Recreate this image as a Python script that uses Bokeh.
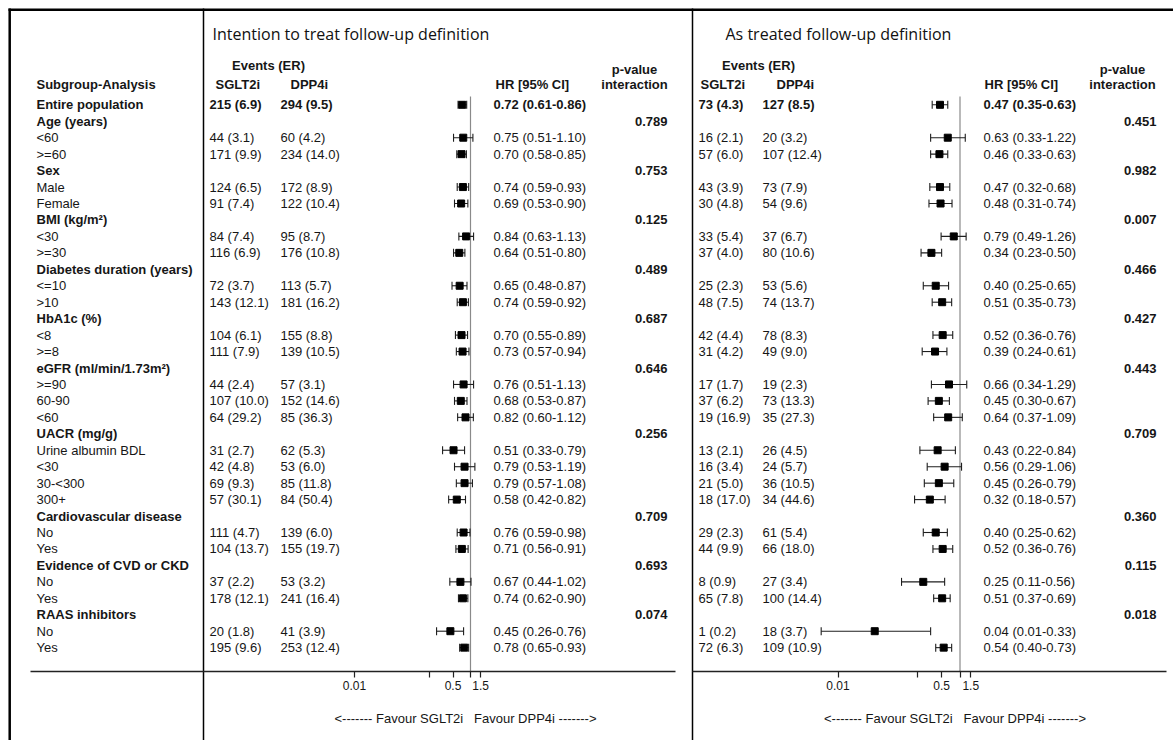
from bokeh.plotting import figure
from bokeh.models import ColumnDataSource, Range1d, LogScale, LogAxis, FixedTicker, Label, CustomJSTickFormatter
from bokeh.core.properties import value
from bokeh.embed import file_html
from bokeh.resources import INLINE

# ---------------- data ----------------
subgroups = ["Entire population", "Age (years)", "<60", ">=60", "Sex", "Male", "Female",
             "BMI (kg/m\u00b2)", "<30", ">=30", "Diabetes duration (years)", "<=10", ">10",
             "HbA1c (%)", "<8", ">=8", "eGFR (ml/min/1.73m\u00b2)", ">=90", "60-90", "<60",
             "UACR (mg/g)", "Urine albumin BDL", "<30", "30-<300", "300+",
             "Cardiovascular disease", "No", "Yes", "Evidence of CVD or CKD", "No", "Yes",
             "RAAS inhibitors", "No", "Yes"]
group_rows = [1, 4, 7, 10, 13, 16, 20, 25, 28, 31]

# Intention to treat
itt_sglt2_n = [215, None, 44, 171, None, 124, 91, None, 84, 116, None, 72, 143, None, 104, 111,
               None, 44, 107, 64, None, 31, 42, 69, 57, None, 111, 104, None, 37, 178, None, 20, 195]
itt_sglt2_er = [6.9, None, 3.1, 9.9, None, 6.5, 7.4, None, 7.4, 6.9, None, 3.7, 12.1, None, 6.1, 7.9,
                None, 2.4, 10.0, 29.2, None, 2.7, 4.8, 9.3, 30.1, None, 4.7, 13.7, None, 2.2, 12.1, None, 1.8, 9.6]
itt_dpp4_n = [294, None, 60, 234, None, 172, 122, None, 95, 176, None, 113, 181, None, 155, 139,
              None, 57, 152, 85, None, 62, 53, 85, 84, None, 139, 155, None, 53, 241, None, 41, 253]
itt_dpp4_er = [9.5, None, 4.2, 14.0, None, 8.9, 10.4, None, 8.7, 10.8, None, 5.7, 16.2, None, 8.8, 10.5,
               None, 3.1, 14.6, 36.3, None, 5.3, 6.0, 11.8, 50.4, None, 6.0, 19.7, None, 3.2, 16.4, None, 3.9, 12.4]
itt_hr = [0.72, None, 0.75, 0.70, None, 0.74, 0.69, None, 0.84, 0.64, None, 0.65, 0.74, None, 0.70, 0.73,
          None, 0.76, 0.68, 0.82, None, 0.51, 0.79, 0.79, 0.58, None, 0.76, 0.71, None, 0.67, 0.74, None, 0.45, 0.78]
itt_lo = [0.61, None, 0.51, 0.58, None, 0.59, 0.53, None, 0.63, 0.51, None, 0.48, 0.59, None, 0.55, 0.57,
          None, 0.51, 0.53, 0.60, None, 0.33, 0.53, 0.57, 0.42, None, 0.59, 0.56, None, 0.44, 0.62, None, 0.26, 0.65]
itt_hi = [0.86, None, 1.10, 0.85, None, 0.93, 0.90, None, 1.13, 0.80, None, 0.87, 0.92, None, 0.89, 0.94,
          None, 1.13, 0.87, 1.12, None, 0.79, 1.19, 1.08, 0.82, None, 0.98, 0.91, None, 1.02, 0.90, None, 0.76, 0.93]
itt_p = [0.789, 0.753, 0.125, 0.489, 0.687, 0.646, 0.256, 0.709, 0.693, 0.074]

# As treated
at_sglt2_n = [73, None, 16, 57, None, 43, 30, None, 33, 37, None, 25, 48, None, 42, 31,
              None, 17, 37, 19, None, 13, 16, 21, 18, None, 29, 44, None, 8, 65, None, 1, 72]
at_sglt2_er = [4.3, None, 2.1, 6.0, None, 3.9, 4.8, None, 5.4, 4.0, None, 2.3, 7.5, None, 4.4, 4.2,
               None, 1.7, 6.2, 16.9, None, 2.1, 3.4, 5.0, 17.0, None, 2.3, 9.9, None, 0.9, 7.8, None, 0.2, 6.3]
at_dpp4_n = [127, None, 20, 107, None, 73, 54, None, 37, 80, None, 53, 74, None, 78, 49,
             None, 19, 73, 35, None, 26, 24, 36, 34, None, 61, 66, None, 27, 100, None, 18, 109]
at_dpp4_er = [8.5, None, 3.2, 12.4, None, 7.9, 9.6, None, 6.7, 10.6, None, 5.6, 13.7, None, 8.3, 9.0,
              None, 2.3, 13.3, 27.3, None, 4.5, 5.7, 10.5, 44.6, None, 5.4, 18.0, None, 3.4, 14.4, None, 3.7, 10.9]
at_hr = [0.47, None, 0.63, 0.46, None, 0.47, 0.48, None, 0.79, 0.34, None, 0.40, 0.51, None, 0.52, 0.39,
         None, 0.66, 0.45, 0.64, None, 0.43, 0.56, 0.45, 0.32, None, 0.40, 0.52, None, 0.25, 0.51, None, 0.04, 0.54]
at_lo = [0.35, None, 0.33, 0.33, None, 0.32, 0.31, None, 0.49, 0.23, None, 0.25, 0.35, None, 0.36, 0.24,
         None, 0.34, 0.30, 0.37, None, 0.22, 0.29, 0.26, 0.18, None, 0.25, 0.36, None, 0.11, 0.37, None, 0.0053, 0.40]
at_hi = [0.63, None, 1.22, 0.63, None, 0.68, 0.74, None, 1.26, 0.50, None, 0.65, 0.73, None, 0.76, 0.61,
         None, 1.29, 0.67, 1.09, None, 0.84, 1.06, 0.79, 0.57, None, 0.62, 0.76, None, 0.56, 0.69, None, 0.33, 0.73]
at_p = [0.451, 0.982, 0.007, 0.466, 0.427, 0.443, 0.709, 0.360, 0.115, 0.018]

tick_values = [0.01, 0.2, 0.5, 1, 1.5]
tick_labels = ["0.01", "", "0.5", "", "1.5"]

titles = ["Intention to treat follow-up definition", "As treated follow-up definition"]
favour_text = "<------- Favour SGLT2i\u00a0\u00a0\u00a0Favour DPP4i ------->"

# ---------------- layout ----------------
W, H = 1173, 740
X0, Y0 = 0, 0
ROW0, PITCH = 104.3, 16.45
AXIS_Y = 670.5
FONT = "Liberation Sans"
FS = "13px"
TXT = "#161616"

p = figure(width=W, height=H, x_range=Range1d(X0, X0 + W), y_range=Range1d(Y0 + H, Y0),
           output_backend="svg", toolbar_location=None, x_axis_type=None, y_axis_type=None,
           min_border=0, outline_line_color=None,
           background_fill_color="white", border_fill_color="white")

panels = [
    dict(name="L", ref=470.0, ppd=58.0, c1=209, c2=280, hr=493, pv=667,
         h_ev=268, h1=215, h2=290, h_hr=495, h_pv=634, title_x=212, ax_lo=30, ax_hi=675, fav_off=-5,
         sn=itt_sglt2_n, se=itt_sglt2_er, dn=itt_dpp4_n, de=itt_dpp4_er,
         hrv=itt_hr, lo=itt_lo, hi=itt_hi, pvals=itt_p, title=titles[0]),
    dict(name="R", ref=959.5, ppd=61.0, c1=698, c2=762, hr=983, pv=1156,
         h_ev=758, h1=700, h2=776, h_hr=984, h_pv=1122, title_x=725, ax_lo=692, ax_hi=1166, fav_off=-5,
         sn=at_sglt2_n, se=at_sglt2_er, dn=at_dpp4_n, de=at_dpp4_er,
         hrv=at_hr, lo=at_lo, hi=at_hi, pvals=at_p, title=titles[1]),
]

p.extra_x_ranges = {}
p.extra_x_scales = {}
for pn in panels:
    inv = lambda px, pn=pn: 10 ** ((px - pn["ref"]) / pn["ppd"])
    pn["inv"] = inv
    p.extra_x_ranges[pn["name"]] = Range1d(inv(X0), inv(X0 + W))
    p.extra_x_scales[pn["name"]] = LogScale()


def txt(xs, ys, texts, bold=False, align="left", font=FONT, size=FS, color=TXT):
    src = ColumnDataSource(dict(x=xs, y=ys, t=texts))
    p.text(x="x", y="y", text="t", source=src, text_font=value(font), text_font_size=size,
           text_font_style="bold" if bold else "normal", text_align=align,
           text_baseline="middle", text_color=color)


row_y = [ROW0 + i * PITCH for i in range(len(subgroups))]

# frame lines (outer box left/top, panel dividers)
p.segment(x0=[8, 9.2, 203, 692], x1=[W, 9.2, 203, 692],
          y0=[9.2, 8, 8, 8], y1=[9.2, H, H, H],
          line_color="black", line_width=[2.5, 2.5, 1.5, 1.5])

# subgroup labels
bold_idx = [0] + group_rows
txt([36] * len(bold_idx), [row_y[i] for i in bold_idx], [subgroups[i] for i in bold_idx], bold=True)
norm_idx = [i for i in range(len(subgroups)) if i not in bold_idx]
txt([36] * len(norm_idx), [row_y[i] for i in norm_idx], [subgroups[i] for i in norm_idx])
txt([36], [83.5], ["Subgroup-Analysis"], bold=True)

for pn in panels:
    rn = pn["name"]
    # titles & headers
    txt([pn["title_x"]], [33], [pn["title"]], font="Open Sans", size="16px", color="#111111")
    txt([pn["h_ev"]], [64.5], ["Events (ER)"], bold=True, align="center")
    txt([pn["h1"], pn["h2"], pn["h_hr"]], [83.5] * 3, ["SGLT2i", "DPP4i", "HR [95% CI]"], bold=True)
    txt([pn["h_pv"], pn["h_pv"]], [68.5, 83.5], ["p-value", "interaction"], bold=True, align="center")

    data_idx = [i for i in range(len(subgroups)) if pn["hrv"][i] is not None]
    ev1 = [f"{pn['sn'][i]} ({pn['se'][i]:.1f})" for i in data_idx]
    ev2 = [f"{pn['dn'][i]} ({pn['de'][i]:.1f})" for i in data_idx]
    hrt = [f"{pn['hrv'][i]:.2f} ({pn['lo'][i]:.2f}-{pn['hi'][i]:.2f})" for i in data_idx]
    ys = [row_y[i] for i in data_idx]
    # first data row (Entire population) bold
    txt([pn["c1"], pn["c2"], pn["hr"]], [ys[0]] * 3, [ev1[0], ev2[0], hrt[0]], bold=True)
    n = len(ys) - 1
    txt([pn["c1"]] * n, ys[1:], ev1[1:])
    txt([pn["c2"]] * n, ys[1:], ev2[1:])
    txt([pn["hr"]] * n, ys[1:], hrt[1:])
    # p-values
    txt([pn["pv"]] * len(group_rows), [row_y[i] for i in group_rows],
        [f"{v:.3f}" for v in pn["pvals"]], bold=True, align="right")

    # reference line
    p.segment(x0=[1], x1=[1], y0=[96], y1=[AXIS_Y], x_range_name=rn, line_color="#8a8a8a", line_width=1.2)

    # forest
    src = ColumnDataSource(dict(
        y=ys, yt=[y - 4 for y in ys], yb=[y + 4 for y in ys],
        hr=[pn["hrv"][i] for i in data_idx], lo=[pn["lo"][i] for i in data_idx],
        hi=[pn["hi"][i] for i in data_idx]))
    p.segment(x0="lo", x1="hi", y0="y", y1="y", source=src, x_range_name=rn,
              line_color="#1e1e1e", line_width=1.1)
    p.segment(x0="lo", x1="lo", y0="yt", y1="yb", source=src, x_range_name=rn,
              line_color="#1e1e1e", line_width=1.1)
    p.segment(x0="hi", x1="hi", y0="yt", y1="yb", source=src, x_range_name=rn,
              line_color="#1e1e1e", line_width=1.1)
    p.scatter(x="hr", y="y", source=src, x_range_name=rn, marker="square", size=7,
              fill_color="black", line_color="black")

    # axis
    fmt = CustomJSTickFormatter(args=dict(vals=tick_values, labs=tick_labels), code="""
        for (let i = 0; i < vals.length; i++) {
            if (Math.abs(vals[i] - tick) < 1e-9 * Math.max(1, vals[i])) return labs[i];
        }
        return '';
    """)
    ax = LogAxis(x_range_name=rn, fixed_location=AXIS_Y,
                 bounds=(pn["inv"](pn["ax_lo"]), pn["inv"](pn["ax_hi"])),
                 ticker=FixedTicker(ticks=tick_values, minor_ticks=[]), formatter=fmt,
                 axis_line_color="#222222", axis_line_width=1.4,
                 major_tick_line_color="#222222", major_tick_line_width=1.2,
                 major_tick_out=6, major_tick_in=0, minor_tick_out=0, minor_tick_in=0,
                 major_label_standoff=4, major_label_text_font=FONT,
                 major_label_text_font_size="12px", major_label_text_color=TXT)
    p.add_layout(ax, "below")

    p.add_layout(Label(x=1, y=718, x_range_name=rn, x_offset=pn["fav_off"], text=favour_text,
                       text_align="center", text_baseline="middle", text_font=FONT,
                       text_font_size="13px", text_color=TXT))

open("out.html", "w").write(file_html(p, INLINE))
